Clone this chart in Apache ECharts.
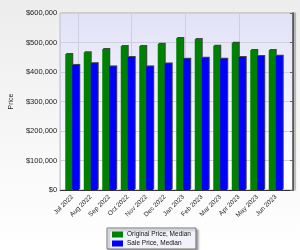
<!DOCTYPE html>
<html><head><meta charset="utf-8">
<script src="https://cdn.jsdelivr.net/npm/echarts@6/dist/echarts.min.js"></script>
<style>html,body{margin:0;padding:0;}#c{width:300px;height:250px;}</style>
</head><body><div id="c"></div>
<script>
const categories = ['Jul 2022','Aug 2022','Sep 2022','Oct 2022','Nov 2022','Dec 2022','Jan 2023','Feb 2023','Mar 2023','Apr 2023','May 2023','Jun 2023'];
const originalPrice = [461000,467000,478000,488000,488000,496000,515000,512000,489000,499000,475000,475000];
const salePrice = [424000,430000,419000,451000,419000,429000,445000,448000,445000,451000,454000,455000];
const seriesNames = ['Original Price, Median','Sale Price, Median'];
const yMin = 0, yMax = 600000, yStep = 100000;

const chart = echarts.init(document.getElementById('c'), null, {renderer:'canvas'});
const font = 'Liberation Sans, Arial, sans-serif';
chart.setOption({
  animation:false,
  backgroundColor:{type:'linear',x:0,y:0,x2:0,y2:1,colorStops:[{offset:0,color:'#ededed'},{offset:1,color:'#ffffff'}]},
  grid:[
    {left:53,right:7,top:13,bottom:60,show:true,borderColor:'#aaa',borderWidth:1,
     backgroundColor:{type:'linear',x:0,y:0,x2:0,y2:1,colorStops:[{offset:0,color:'#e2e2f7'},{offset:1,color:'#ffffff'}]}},
    {left:63,right:15,top:13,bottom:60}
  ],
  xAxis:[
    {type:'value',gridIndex:0,inverse:true,min:0,max:4.33,interval:1,
     axisLabel:{show:false},axisTick:{show:false},
     axisLine:{show:true,onZero:false,lineStyle:{color:'#333',width:1}},
     splitLine:{show:true,lineStyle:{color:'#cfd0de',width:1}}},
    {type:'category',gridIndex:1,data:categories,boundaryGap:true,
     axisLine:{show:false},
     axisTick:{show:false},
     axisLabel:{rotate:45,fontSize:6.5,color:'#222',fontFamily:font,margin:6,interval:0},
     splitLine:{show:false}}
  ],
  yAxis:[
    {type:'value',gridIndex:0,min:yMin,max:yMax,interval:yStep,
     name:'Price',nameLocation:'middle',nameGap:42,nameRotate:90,
     nameTextStyle:{fontSize:7,color:'#222',fontFamily:font},
     axisLine:{show:true,lineStyle:{color:'#666'}},
     axisTick:{show:true,length:3,lineStyle:{color:'#666'}},
     axisLabel:{fontSize:7.5,color:'#222',fontFamily:font,margin:3,
       formatter:v=>'$'+v.toLocaleString('en-US')},
     splitLine:{show:true,lineStyle:{color:'#cfd0de',width:1}}},
    {type:'value',gridIndex:1,min:yMin,max:yMax,interval:yStep,show:false},
    {type:'value',gridIndex:0,position:'right',min:yMin,max:yMax,interval:yStep,
     axisLine:{show:true,lineStyle:{color:'#555',width:1.5,shadowColor:'rgba(0,0,0,0.35)',shadowBlur:1,shadowOffsetX:2}},
     axisTick:{show:false},axisLabel:{show:false},splitLine:{show:false}}
  ],
  legend:{
    orient:'vertical',left:107,top:228,
    backgroundColor:'#f2f2fb',borderColor:'#777',borderWidth:1,
    shadowColor:'rgba(0,0,0,0.35)',shadowBlur:2,shadowOffsetX:2,shadowOffsetY:2,
    padding:[3,5,2,5],itemGap:2,itemWidth:11,itemHeight:6,icon:'rect',
    textStyle:{fontSize:6.5,color:'#111',fontFamily:font,padding:[0,0,0,-1]},
    data:seriesNames
  },
  series:[
    {name:seriesNames[0],type:'bar',xAxisIndex:1,yAxisIndex:1,data:originalPrice,
     barWidth:7,barGap:'0%',
     itemStyle:{color:'#008000',shadowColor:'rgba(0,0,0,0.7)',shadowBlur:0,shadowOffsetX:1,shadowOffsetY:-1}},
    {name:seriesNames[1],type:'bar',xAxisIndex:1,yAxisIndex:1,data:salePrice,
     barWidth:7,barGap:'0%',
     itemStyle:{color:'#0000ff',shadowColor:'rgba(0,0,0,0.7)',shadowBlur:0,shadowOffsetX:1,shadowOffsetY:-1}}
  ]
});
</script></body></html>
